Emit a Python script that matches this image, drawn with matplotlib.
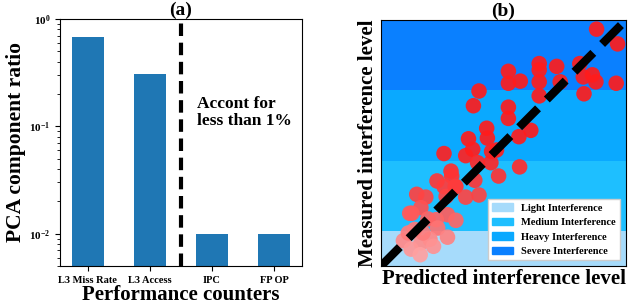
import matplotlib
matplotlib.use("Agg")
import matplotlib.pyplot as plt
from matplotlib.patches import Patch
from matplotlib.colors import LinearSegmentedColormap

plt.rcParams['font.family'] = 'serif'
plt.rcParams['font.serif'] = ['Liberation Serif', 'DejaVu Serif']
plt.rcParams['font.weight'] = 'bold'
plt.rcParams['mathtext.fontset'] = 'stix'

# (a) PCA component ratio per counter
counters = ['L3 Miss Rate', 'L3 Access', 'IPC', 'FP OP']
ratios = [0.68, 0.31, 0.01, 0.01]

# (b) predicted vs measured interference level
predicted = [3.08, 3.38, 3.36, 3.07, 3.02, 2.89, 2.84, 2.90, 2.51, 2.56,
             2.26, 2.26, 2.26, 2.26, 1.99, 1.82, 1.82, 1.82, 1.82, 1.40,
             1.32, 1.51, 1.52, 2.14, 1.97, 1.98, 1.25, 1.21, 1.31, 0.90,
             1.38, 1.57, 1.68, 1.65, 1.58, 1.00, 1.01, 0.80, 0.90, 1.07,
             0.51, 0.64, 0.93, 1.21, 1.40, 0.57, 0.44, 0.95, 1.07, 0.79,
             0.67, 0.81, 0.95, 0.70, 0.57, 0.32, 0.43, 0.56, 0.60, 0.48,
             0.41, 0.39, 0.75, 1.34, 1.06]
measured = [3.37, 3.16, 2.60, 2.62, 2.72, 2.69, 2.88, 2.45, 2.84, 2.62,
            2.88, 2.79, 2.62, 2.42, 2.63, 2.77, 2.60, 2.26, 2.10, 2.49,
            2.28, 1.96, 1.82, 1.93, 1.84, 1.41, 1.81, 1.57, 1.66, 1.60,
            1.47, 1.47, 1.28, 1.65, 1.63, 1.35, 1.28, 1.21, 1.13, 1.13,
            1.02, 0.98, 0.99, 0.98, 1.01, 0.83, 0.75, 0.73, 0.65, 0.66,
            0.67, 0.54, 0.41, 0.38, 0.33, 0.36, 0.24, 0.16, 0.47, 0.52,
            0.75, 0.47, 0.28, 1.22, 1.13]

levels = ['Light Interference', 'Medium Interference', 'Heavy Interference', 'Severe Interference']
level_bounds = [(0, 0.5), (0.5, 1.5), (1.5, 2.5), (2.5, 3.5)]
level_colors = ['#a6dbfb', '#1ebfff', '#0aa9ff', '#0a80ff']

fig = plt.figure(figsize=(6.34, 3.04), dpi=100)

# ---- (a) ----
ax1 = fig.add_axes([60 / 634, 38 / 304, 242 / 634, 247 / 304])
x = range(len(counters))
ax1.bar(x, ratios, width=0.52, color='#1f77b4')
ax1.set_yscale('log')
ax1.set_ylim(0.005, 1)
ax1.set_xlim(-0.45, 3.45)
ax1.axvline(1.5, color='black', ls='--', lw=3, dashes=(3, 1.6))
ax1.set_xticks(list(x))
ax1.set_xticklabels(counters, fontsize=7.5, fontweight='bold')
ax1.tick_params(axis='y', labelsize=8)
ax1.text(1.76, 0.135, 'Accont for\nless than 1%', fontsize=12.5, fontweight='bold',
         ha='left', va='center', linespacing=1.1)
ax1.set_title('(a)', fontsize=14, fontweight='bold', pad=1)
ax1.set_xlabel('Performance counters', fontsize=15, fontweight='bold', labelpad=0)
ax1.set_ylabel('PCA component ratio', fontsize=15.5, fontweight='bold', labelpad=2)

# ---- (b) ----
ax2 = fig.add_axes([381 / 634, 38 / 304, 245 / 634, 246 / 304])
for name, (lo, hi), col in zip(levels, level_bounds, level_colors):
    ax2.axhspan(lo, hi, color=col, lw=0, zorder=0)
cmap = LinearSegmentedColormap.from_list('pinkred', ['#ffa8a8', '#ff4848', '#ff1c1c'])
ax2.scatter(predicted, measured, s=125, c=measured, cmap=cmap, vmin=0.1, vmax=1.7,
            alpha=0.92, lw=0, zorder=2)
ax2.plot([0, 3.5], [0, 3.5], color='black', lw=6, ls='--', dashes=(3.2, 1.5), zorder=3)
ax2.set_xlim(0, 3.5)
ax2.set_ylim(0, 3.5)
ax2.set_xticks([])
ax2.set_yticks([])
handles = [Patch(color=c, label=n) for n, c in zip(levels, level_colors)]
leg = ax2.legend(handles=handles, loc='lower right',
                 prop={'weight': 'bold', 'size': 7.5}, framealpha=1,
                 fancybox=False, handlelength=2.0, borderaxespad=0.55,
                 labelspacing=0.5)
leg.set_zorder(5)
ax2.set_title('(b)', fontsize=14, fontweight='bold', pad=1)
ax2.set_xlabel('Predicted interference level', fontsize=15, fontweight='bold', labelpad=2)
ax2.set_ylabel('Measured interference level', fontsize=15, fontweight='bold', labelpad=2)

fig.savefig('out.png', dpi=100)
